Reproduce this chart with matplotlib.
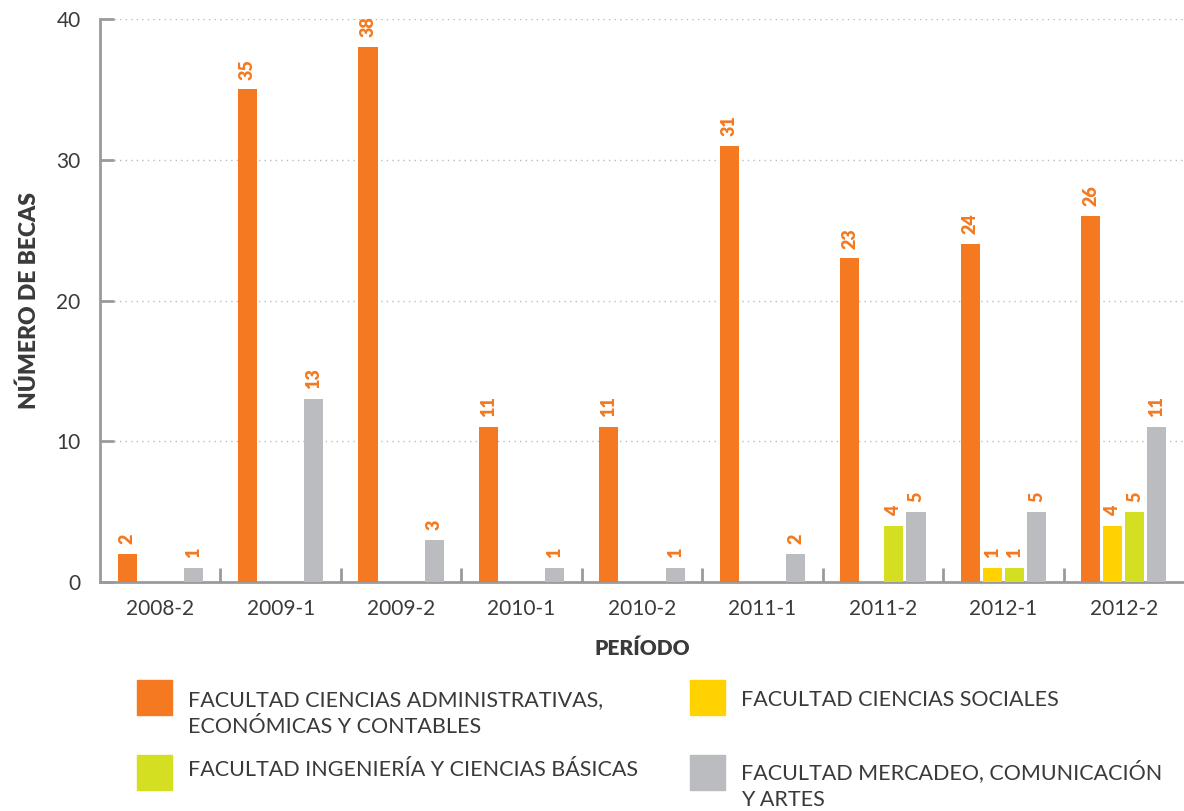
import matplotlib.pyplot as plt
import matplotlib.patches as mpatches
import numpy as np

periodos = ['2008-2', '2009-1', '2009-2', '2010-1', '2010-2',
            '2011-1', '2011-2', '2012-1', '2012-2']
administrativas = [2, 35, 38, 11, 11, 31, 23, 24, 26]
sociales = [0, 0, 0, 0, 0, 0, 0, 1, 4]
ingenieria = [0, 0, 0, 0, 0, 0, 4, 1, 5]
mercadeo = [1, 13, 3, 1, 1, 2, 5, 5, 11]

nombres = ['FACULTAD CIENCIAS ADMINISTRATIVAS,\nECONÓMICAS Y CONTABLES',
           'FACULTAD CIENCIAS SOCIALES',
           'FACULTAD INGENIERÍA Y CIENCIAS BÁSICAS',
           'FACULTAD MERCADEO, COMUNICACIÓN\nY ARTES']
colores = ['#F47920', '#FFD200', '#D4DF21', '#BBBCBF']

plt.rcParams['font.family'] = ['Lato', 'DejaVu Sans']
texto = '#3A3A3A'
eje = '#9A9A9C'

fig = plt.figure(figsize=(11.84, 8.11), dpi=100)
ax = fig.add_axes([100 / 1184, 1 - 582 / 811, 1 - 100 / 1184, (582 - 19) / 811])

x = np.arange(len(periodos))
series = [administrativas, sociales, ingenieria, mercadeo]
offsets = [-0.275, -0.092, 0.092, 0.275]
ancho = 0.158

for serie, off, col in zip(series, offsets, colores):
    bars = ax.bar(x + off, serie, ancho, color=col, zorder=3)
    for b, v in zip(bars, serie):
        if v > 0:
            ax.annotate(str(v), (b.get_x() + b.get_width() / 2, v),
                        xytext=(0, 7), textcoords='offset points',
                        rotation=90, ha='center', va='bottom',
                        fontsize=13, fontweight='heavy', color='#F47920')

ax.set_xlim(-0.5, 8.5)
ax.set_ylim(0, 40)
ax.set_yticks([0, 10, 20, 30, 40])
for y in [10, 20, 30, 40]:
    ax.axhline(y, xmin=0.013, xmax=1, color='#BBBBBB', lw=1, ls=(0, (1, 3)), zorder=1)

for s in ['top', 'right']:
    ax.spines[s].set_visible(False)
for s in ['left', 'bottom']:
    ax.spines[s].set_color(eje)
    ax.spines[s].set_linewidth(2)

ax.tick_params(axis='y', direction='in', length=10, width=2, color=eje,
               labelsize=15, labelcolor=texto, pad=14)
ax.set_xticks(x)
ax.set_xticklabels(periodos)
ax.set_xticks(np.arange(0.5, 8.5, 1), minor=True)
ax.tick_params(axis='x', which='major', length=0, labelsize=15, labelcolor=texto, pad=12)
ax.tick_params(axis='x', which='minor', direction='in', length=10, width=2, color=eje)

ax.set_ylabel('NÚMERO DE BECAS', fontsize=16.5, fontweight='heavy', color=texto, labelpad=12)
ax.set_xlabel('PERÍODO', fontsize=15, fontweight='heavy', color=texto, labelpad=14)

# leyenda manual
pos = [(137, 680, 690), (690, 680, 690), (137, 755, 760), (690, 755, 760)]
for (px, py, ty), nombre, col in zip(pos, nombres, colores):
    fig.add_artist(mpatches.Rectangle((px / 1184, 1 - (py + 35) / 811), 35 / 1184, 35 / 811,
                                      color=col, transform=fig.transFigure))
    fig.text((px + 51) / 1184, 1 - ty / 811, nombre, fontsize=15.5, color=texto,
             va='top', ha='left', linespacing=1.45)

fig.savefig('out.png', dpi=100)
